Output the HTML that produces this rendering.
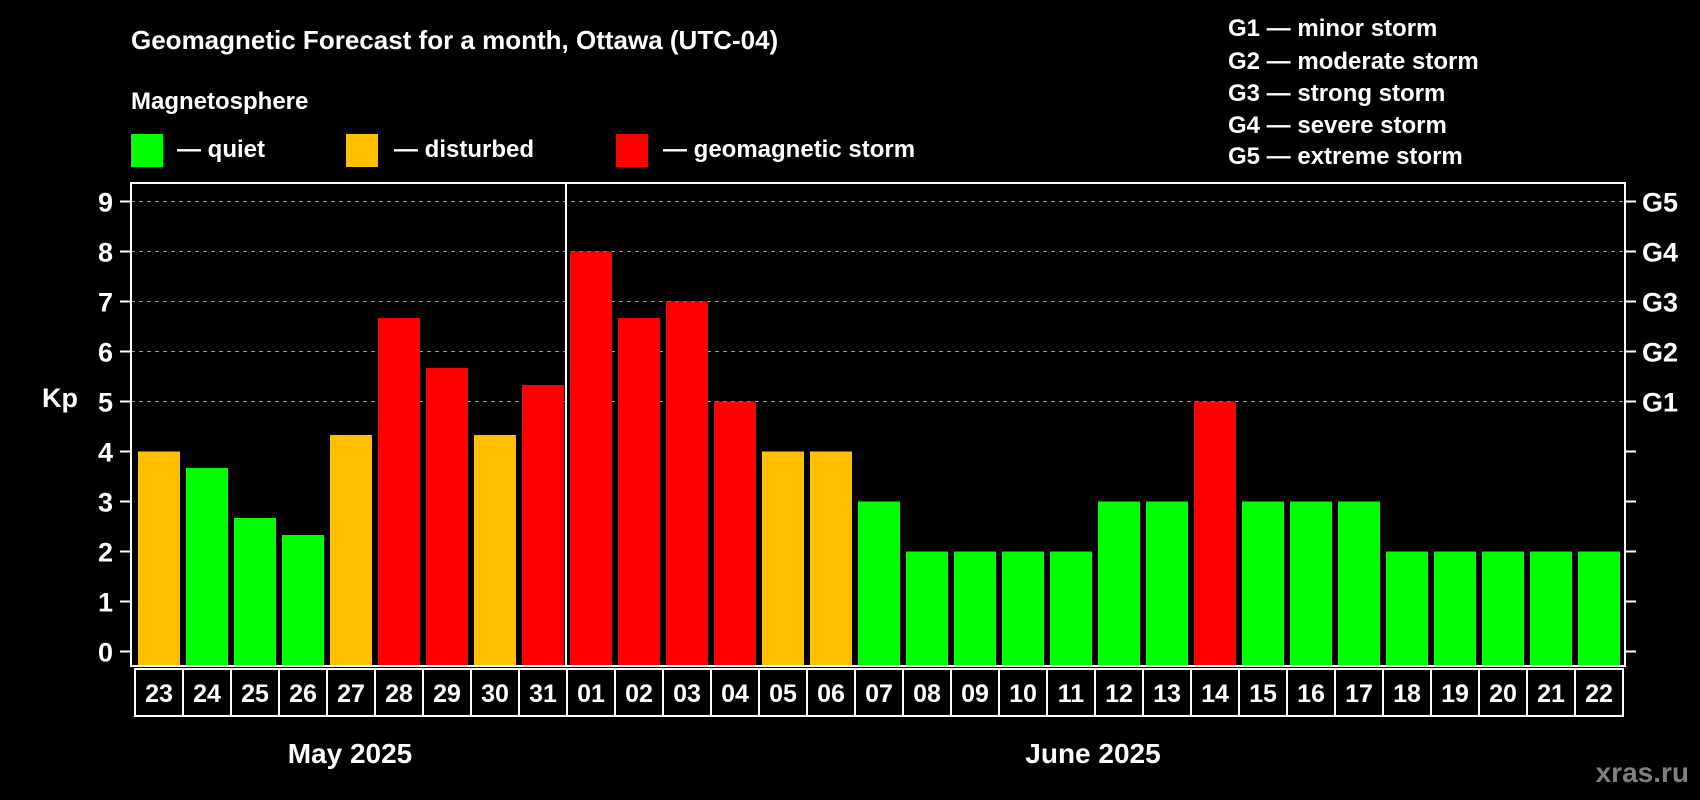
<!DOCTYPE html>
<html><head><meta charset="utf-8"><style>
html,body{margin:0;padding:0;background:#000;}
svg{display:block;font-family:"Liberation Sans",Arial,sans-serif;font-weight:bold;}
</style></head><body>
<svg id="chart" width="1700" height="800" viewBox="0 0 1700 800" xmlns="http://www.w3.org/2000/svg">
<rect width="1700" height="800" fill="#000"/>
<text x="131" y="49" fill="#fff" font-size="26">Geomagnetic Forecast for a month, Ottawa (UTC-04)</text>
<text x="131" y="109" fill="#fff" font-size="24">Magnetosphere</text>
<rect x="131" y="134" width="32" height="33" fill="#00ff00"/>
<text x="177" y="157" fill="#fff" font-size="24">— quiet</text>
<rect x="346" y="134" width="32" height="33" fill="#ffc000"/>
<text x="394" y="157" fill="#fff" font-size="24">— disturbed</text>
<rect x="616" y="134" width="32" height="33" fill="#ff0000"/>
<text x="663" y="157" fill="#fff" font-size="24">— geomagnetic storm</text>
<g fill="#fff" font-size="24">
<text x="1228" y="36">G1 — minor storm</text>
<text x="1228" y="69">G2 — moderate storm</text>
<text x="1228" y="101">G3 — strong storm</text>
<text x="1228" y="133">G4 — severe storm</text>
<text x="1228" y="164">G5 — extreme storm</text>
</g>
<text x="42" y="407" fill="#fff" font-size="27">Kp</text>
<g id="grid"></g>
<g id="bars"></g>
<g id="axes"></g>
<text x="350" y="763" fill="#fff" font-size="28" text-anchor="middle">May 2025</text>
<text x="1093" y="763" fill="#fff" font-size="28" text-anchor="middle">June 2025</text>
<text x="1689" y="782" fill="#808080" font-size="28" text-anchor="end">xras.ru</text>
</svg>
<script>
const days = ["23","24","25","26","27","28","29","30","31","01","02","03","04","05","06","07","08","09","10","11","12","13","14","15","16","17","18","19","20","21","22"];
const kpValues = [4,3.67,2.67,2.33,4.33,6.67,5.67,4.33,5.33,8,6.67,7,5,4,4,3,2,2,2,2,3,3,5,3,3,3,2,2,2,2,2];
const yTicks = [0,1,2,3,4,5,6,7,8,9];
const gLabels = ["G1","G2","G3","G4","G5"];
const gLevels = [5,6,7,8,9];
const mayCount = 9;

const NS = "http://www.w3.org/2000/svg";
const frameL = 131, frameR = 1625, frameT = 183, frameB = 666;
const slot0 = 135, pitch = 48, barW = 42;
function y(v){ return 651.5 - 50 * v; }
function slotX(i){ return slot0 + pitch * i; }
function color(v){ return v >= 5 ? "#ff0000" : (v >= 4 ? "#ffc000" : "#00ff00"); }
function mk(tag, attrs, parent){
  const e = document.createElementNS(NS, tag);
  for (const k in attrs) e.setAttribute(k, attrs[k]);
  parent.appendChild(e); return e;
}
const grid = document.getElementById("grid");
const bars = document.getElementById("bars");
const axes = document.getElementById("axes");

gLevels.forEach((lv, i) => {
  const l = mk("line", {x1: frameL, x2: frameR, y1: y(lv), y2: y(lv), stroke: "#999", "stroke-width": 1, "stroke-dasharray": "4,4"}, grid);
  
  
});

kpValues.forEach((v, i) => {
  const r = mk("rect", {x: slotX(i) + 3, y: y(v), width: barW, height: frameB - y(v), fill: color(v)}, bars);
  
  
});

const frame = mk("rect", {x: frameL, y: frameT, width: frameR - frameL, height: frameB - frameT, fill: "none", stroke: "#fff", "stroke-width": 2}, axes);


const divX = slotX(mayCount) - 1;
const div = mk("line", {x1: divX, x2: divX, y1: frameT, y2: frameB, stroke: "#fff", "stroke-width": 2}, axes);



yTicks.forEach(t => {
  const tk = mk("line", {x1: frameL - 11, x2: frameL, y1: y(t), y2: y(t), stroke: "#fff", "stroke-width": 2}, axes);
  
  
  const tx = mk("text", {x: 113, y: y(t) + 10, fill: "#fff", "font-size": 27, "text-anchor": "end"}, axes);
  tx.textContent = t;
  
  
  const rt = mk("line", {x1: frameR, x2: frameR + 11, y1: y(t), y2: y(t), stroke: "#fff", "stroke-width": 2}, axes);
  
  
});
gLevels.forEach((lv, i) => {
  const tx = mk("text", {x: 1642, y: y(lv) + 10, fill: "#fff", "font-size": 27}, axes);
  tx.textContent = gLabels[i];
  
  
});

days.forEach((d, i) => {
  const b = mk("rect", {x: slotX(i), y: 669, width: pitch, height: 47, fill: "#000", stroke: "#fff", "stroke-width": 2}, axes);
  
  
  const tx = mk("text", {x: slotX(i) + pitch / 2, y: 702, fill: "#fff", "font-size": 25, "text-anchor": "middle"}, axes);
  tx.textContent = d;
  
  
});
</script>
</body></html>
